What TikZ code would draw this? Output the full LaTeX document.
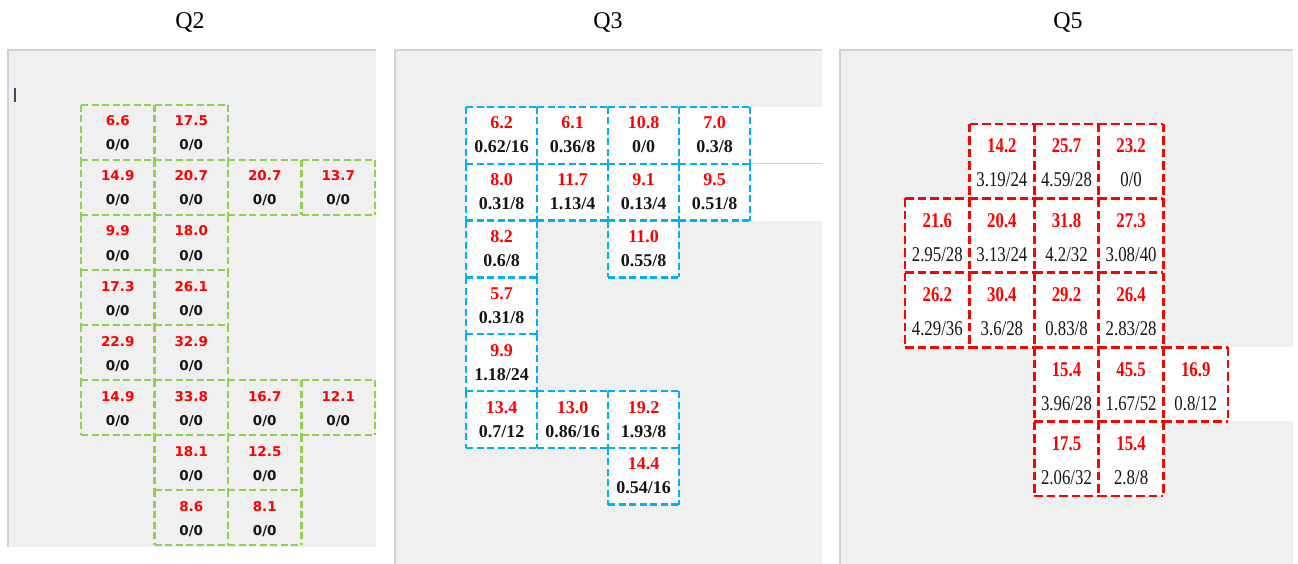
\documentclass[tikz,border=0pt]{standalone}
\usepackage{fontspec}
\setmainfont{Liberation Serif}
\newfontfamily\qtwofont{DejaVu Sans}
\newfontfamily\qthreefont{Liberation Serif}
\newfontfamily\qfivefont[FakeStretch=0.8]{Liberation Serif}
\definecolor{panelbg}{HTML}{F0F0F0}
\definecolor{panelln}{HTML}{D2D2D2}
\definecolor{qgreen}{HTML}{92D050}
\definecolor{qblue}{HTML}{00B0F0}
\definecolor{qred}{HTML}{FF0000}
\definecolor{qtext}{HTML}{151515}
\definecolor{cursorc}{HTML}{3C4C6C}
\tikzset{
  cellbase/.style={rectangle, inner sep=0pt, outer sep=0pt, anchor=north west},
  q2cell/.style={cellbase, minimum width=73.5pt, minimum height=55pt},
  q3cell/.style={cellbase, fill=white, minimum width=71pt, minimum height=56.8pt},
  q5cell/.style={cellbase, fill=white, minimum width=64.6pt, minimum height=74.4pt},
  q2edge/.style={draw=qgreen, line width=2.5pt, dash pattern=on 7pt off 3.5pt},
  q3edge/.style={draw=qblue, line width=2.5pt, dash pattern=on 7pt off 3.5pt},
  q5edge/.style={draw=qred, line width=2.8pt, dash pattern=on 8.5pt off 4pt},
  txt/.style={inner sep=0pt, outer sep=0pt, anchor=base},
  q2red/.style={txt, text=qred, font=\qtwofont\bfseries\fontsize{13.5}{16}\selectfont},
  q2blk/.style={txt, text=qtext, font=\qtwofont\bfseries\fontsize{13.5}{16}\selectfont},
  q3red/.style={txt, text=qred, font=\qthreefont\bfseries\fontsize{18}{20}\selectfont},
  q3blk/.style={txt, text=qtext, font=\qthreefont\bfseries\fontsize{18}{20}\selectfont},
  q5red/.style={txt, text=qred, font=\qfivefont\bfseries\fontsize{21}{24}\selectfont},
  q5blk/.style={txt, text=qtext, font=\qfivefont\fontsize{21}{24}\selectfont},
  title/.style={txt, text=black, font=\fontsize{24}{28}\selectfont},
  panelline/.style={draw=panelln, line width=1.5pt},
}
\newcommand{\cellframe}[2]{%
  \draw[#2] (#1.north west) -- (#1.north east);
  \draw[#2] (#1.south west) -- (#1.south east);
  \draw[#2] (#1.north west) -- (#1.south west);
  \draw[#2] (#1.north east) -- (#1.south east);
}
\begin{document}
\begin{tikzpicture}[x=1pt,y=-1pt]
\useasboundingbox (0,0) rectangle (1298,564);
\fill[white] (0,0) rectangle (1298,564);
% panels
\fill[panelbg] (8,50) rectangle (376,547);
\draw[panelline] (8,547) -- (8,50) -- (376,50);
\fill[panelbg] (395,50) rectangle (822,564);
\draw[panelline] (395,564) -- (395,50) -- (822,50);
\fill[panelbg] (840,50) rectangle (1293,564);
\draw[panelline] (840,564) -- (840,50) -- (1293,50);
% white bands
\fill[white] (750,107) rectangle (822,221);
\draw[panelln, line width=1pt] (750,164) -- (822,164);
\fill[white] (1228,347) rectangle (1293,421);
% titles
\node[title] (t2) at (190,29) {Q2};
\node[title] (t3) at (608,29) {Q3};
\node[title] (t5) at (1068,29) {Q5};
% cursor
\draw[cursorc, line width=1.6pt] (15,88) -- (15,102);
% Q2
\foreach \c/\r/\v/\p/\q in {0/0/6.6/0/0, 1/0/17.5/0/0,
  0/1/14.9/0/0, 1/1/20.7/0/0, 2/1/20.7/0/0, 3/1/13.7/0/0,
  0/2/9.9/0/0, 1/2/18.0/0/0,
  0/3/17.3/0/0, 1/3/26.1/0/0,
  0/4/22.9/0/0, 1/4/32.9/0/0,
  0/5/14.9/0/0, 1/5/33.8/0/0, 2/5/16.7/0/0, 3/5/12.1/0/0,
  1/6/18.1/0/0, 2/6/12.5/0/0,
  1/7/8.6/0/0, 2/7/8.1/0/0}{
  \node[q2cell] (q2-\c-\r) at ({81+\c*73.5},{105+\r*55}) {};
  \cellframe{q2-\c-\r}{q2edge}
  \node[q2red] (q2-\c-\r-v) at ([yshift=-21pt]q2-\c-\r.north) {\v};
  \node[q2blk] (q2-\c-\r-w) at ([yshift=-45pt]q2-\c-\r.north) {\p/\q};
}
% Q3
\foreach \c/\r/\v/\p/\q in {0/0/6.2/0.62/16, 1/0/6.1/0.36/8, 2/0/10.8/0/0, 3/0/7.0/0.3/8,
  0/1/8.0/0.31/8, 1/1/11.7/1.13/4, 2/1/9.1/0.13/4, 3/1/9.5/0.51/8,
  0/2/8.2/0.6/8, 2/2/11.0/0.55/8,
  0/3/5.7/0.31/8,
  0/4/9.9/1.18/24,
  0/5/13.4/0.7/12, 1/5/13.0/0.86/16, 2/5/19.2/1.93/8,
  2/6/14.4/0.54/16}{
  \node[q3cell] (q3-\c-\r) at ({466+\c*71},{107+\r*56.8}) {};
}
\foreach \c/\r/\v/\p/\q in {0/0/6.2/0.62/16, 1/0/6.1/0.36/8, 2/0/10.8/0/0, 3/0/7.0/0.3/8,
  0/1/8.0/0.31/8, 1/1/11.7/1.13/4, 2/1/9.1/0.13/4, 3/1/9.5/0.51/8,
  0/2/8.2/0.6/8, 2/2/11.0/0.55/8,
  0/3/5.7/0.31/8,
  0/4/9.9/1.18/24,
  0/5/13.4/0.7/12, 1/5/13.0/0.86/16, 2/5/19.2/1.93/8,
  2/6/14.4/0.54/16}{
  \cellframe{q3-\c-\r}{q3edge}
  \node[q3red] (q3-\c-\r-v) at ([yshift=-22pt]q3-\c-\r.north) {\v};
  \node[q3blk] (q3-\c-\r-w) at ([yshift=-46pt]q3-\c-\r.north) {\p/\q};
}
% Q5
\foreach \c/\r/\v/\p/\q in {1/0/14.2/3.19/24, 2/0/25.7/4.59/28, 3/0/23.2/0/0,
  0/1/21.6/2.95/28, 1/1/20.4/3.13/24, 2/1/31.8/4.2/32, 3/1/27.3/3.08/40,
  0/2/26.2/4.29/36, 1/2/30.4/3.6/28, 2/2/29.2/0.83/8, 3/2/26.4/2.83/28,
  2/3/15.4/3.96/28, 3/3/45.5/1.67/52, 4/3/16.9/0.8/12,
  2/4/17.5/2.06/32, 3/4/15.4/2.8/8}{
  \node[q5cell] (q5-\c-\r) at ({905+\c*64.6},{124+\r*74.4}) {};
}
\foreach \c/\r/\v/\p/\q in {1/0/14.2/3.19/24, 2/0/25.7/4.59/28, 3/0/23.2/0/0,
  0/1/21.6/2.95/28, 1/1/20.4/3.13/24, 2/1/31.8/4.2/32, 3/1/27.3/3.08/40,
  0/2/26.2/4.29/36, 1/2/30.4/3.6/28, 2/2/29.2/0.83/8, 3/2/26.4/2.83/28,
  2/3/15.4/3.96/28, 3/3/45.5/1.67/52, 4/3/16.9/0.8/12,
  2/4/17.5/2.06/32, 3/4/15.4/2.8/8}{
  \cellframe{q5-\c-\r}{q5edge}
  \node[q5red] (q5-\c-\r-v) at ([yshift=-29pt]q5-\c-\r.north) {\v};
  \node[q5blk] (q5-\c-\r-w) at ([yshift=-63pt]q5-\c-\r.north) {\p/\q};
}
\end{tikzpicture}
\end{document}
